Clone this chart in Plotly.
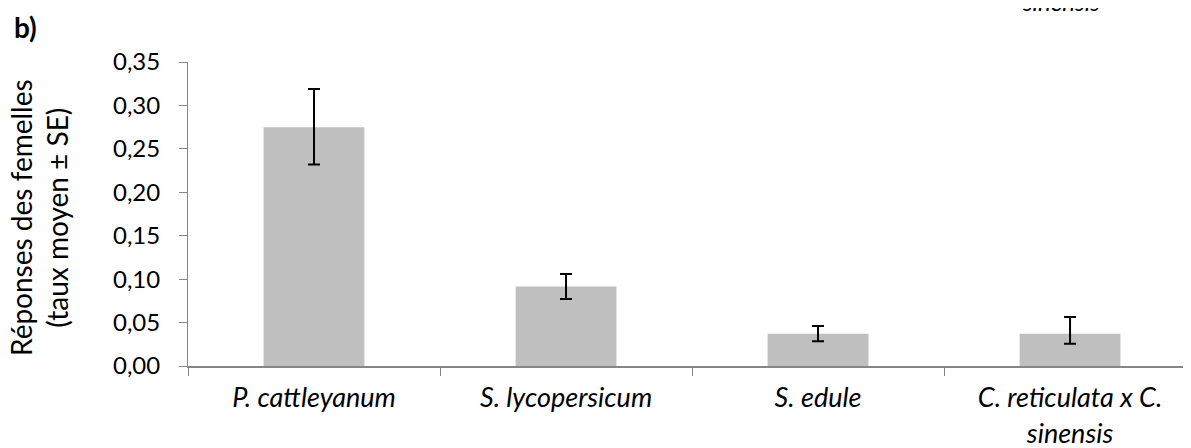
import plotly.graph_objects as go

categories = ["P. cattleyanum", "S. lycopersicum", "S. edule", "C. reticulata x C.<br>sinensis"]
means = [0.275, 0.0915, 0.037, 0.037]
err_plus = [0.044, 0.0145, 0.009, 0.0195]
err_minus = [0.043, 0.0145, 0.0085, 0.0115]
y_ticks = [0, 0.05, 0.10, 0.15, 0.20, 0.25, 0.30, 0.35]

FONT = "Lato"
AX = "#868686"

# page body has an 8px default margin; compensate so the chart lands at the same pixels
W, H = 1183, 440
L, T, PH, PW = 180, 54, 304, 1003

fig = go.Figure()
fig.add_trace(go.Bar(
    x=categories, y=means, width=0.40,
    marker=dict(color="#BFBFBF", line=dict(width=0)),
    error_y=dict(type="data", symmetric=False, array=err_plus, arrayminus=err_minus,
                 color="black", thickness=2, width=6),
))

fig.update_layout(
    width=W, height=H,
    margin=dict(l=L, r=W - L - PW, t=T, b=H - T - PH),
    paper_bgcolor="white", plot_bgcolor="white",
    separators=",.",
    showlegend=False,
    font=dict(family=FONT, color="black"),
    xaxis=dict(
        type="category", range=[-0.5, 3.48],
        showline=True, linecolor=AX, linewidth=2,
        ticks="outside", tickson="boundaries", ticklen=8, tickcolor=AX, tickwidth=1,
        tickfont=dict(family=FONT, size=27, style="italic"),
        ticklabelstandoff=7,
        showgrid=False, zeroline=False,
    ),
    yaxis=dict(
        range=[0, 0.35], tickvals=y_ticks, tickformat=".2f",
        showline=True, linecolor=AX, linewidth=1,
        ticks="outside", ticklen=8, tickcolor=AX, tickwidth=1,
        tickfont=dict(family=FONT, size=24),
        ticklabelstandoff=14,
        showgrid=False, zeroline=False,
    ),
    annotations=[
        dict(text="Réponses des femelles<br>(taux moyen ± SE)", textangle=-90,
             xref="paper", yref="paper", x=(31 - L) / PW, y=0.5 - 4 / PH,
             xanchor="center", yanchor="middle", showarrow=False,
             font=dict(family=FONT, size=28, color="black")),
        dict(text="<b>b)</b>", xref="paper", yref="paper",
             x=(4 - L) / PW, y=(PH + T) / PH, xanchor="left", yanchor="top",
             showarrow=False, font=dict(family=FONT, size=28, color="black")),
        dict(text="<i>sinensis</i>", xref="paper", yref="paper",
             x=(1053 - L) / PW, y=(PH + T - 10) / PH, xanchor="center", yanchor="bottom",
             showarrow=False, font=dict(family=FONT, size=24, color="black")),
    ],
)

fig.write_html("out.html")
